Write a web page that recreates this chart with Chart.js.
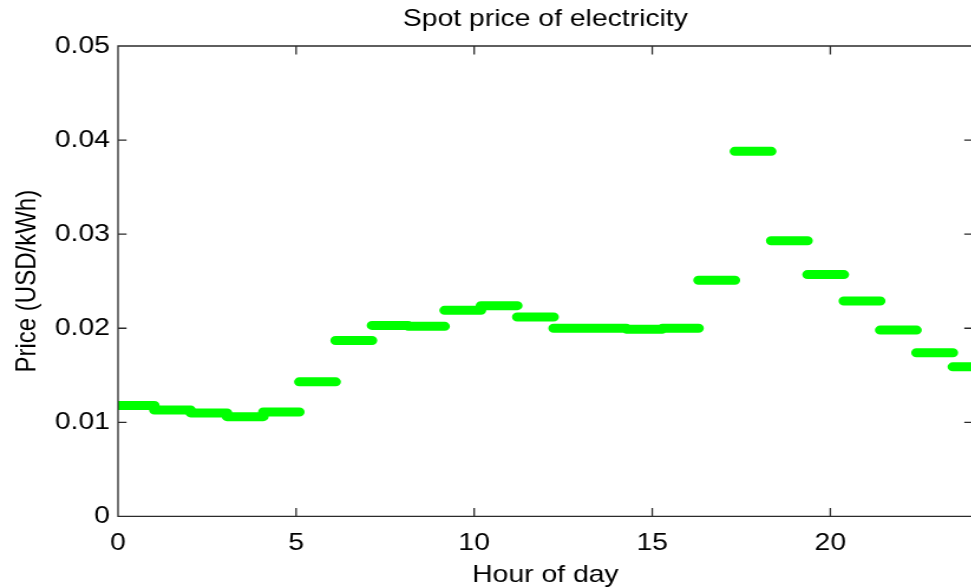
<!DOCTYPE html>
<html>
<head>
<meta charset="utf-8">
<title>Spot price of electricity</title>
<script src="https://cdn.jsdelivr.net/npm/chart.js@4/dist/chart.umd.min.js"></script>
<style>
  html, body { margin: 0; padding: 0; background: #fff; overflow: hidden; }
  canvas { display: block; }
</style>
</head>
<body>
<!-- drawn at 826 px wide and shown 1.18x wider, giving the wide lettering of the original figure -->
<canvas id="price" width="826" height="587" style="width:974.7px;height:587px"></canvas>
<script>
// Boundaries of the hourly price slots (hours)
const slotEdges = [0, 1.02, 2.04, 3.06, 4.08, 5.09, 6.11, 7.13, 8.15, 9.17, 10.19, 11.21,
                   12.23, 13.25, 14.27, 15.29, 16.30, 17.32, 18.34, 19.36, 20.38, 21.40,
                   22.42, 23.44, 24.46];
// Spot price in each slot (USD/kWh)
const spotPrice = [0.0118, 0.0113, 0.0110, 0.0106, 0.0111, 0.0143, 0.0187, 0.0203,
                   0.0202, 0.0219, 0.0224, 0.0212, 0.0200, 0.0200, 0.0199, 0.0200,
                   0.0251, 0.0388, 0.0293, 0.0257, 0.0229, 0.0198, 0.0174, 0.0159];
const xTicks = [0, 5, 10, 15, 20];
const yTicks = [0, 0.01, 0.02, 0.03, 0.04, 0.05];

const STRETCH = 1.18;   // horizontal display stretch of the canvas
const TICK = 8.5;       // inward tick length in screen pixels
const FONT = "'Liberation Sans', Arial, Helvetica, sans-serif";

// one flat segment per slot, separated by gaps
const points = [];
spotPrice.forEach((p, i) => {
  points.push({ x: slotEdges[i], y: p });
  points.push({ x: slotEdges[i + 1], y: p });
  points.push({ x: slotEdges[i + 1], y: null });
});

// closed axes box with inward ticks on all four sides
const axesBox = {
  id: 'axesBox',
  afterDatasetsDraw(chart) {
    const { ctx, chartArea: a, scales: { x, y } } = chart;
    ctx.save();
    ctx.strokeStyle = '#2b2b2b';
    ctx.lineWidth = 1.3;
    ctx.beginPath();
    ctx.rect(a.left, a.top, a.right - a.left, a.bottom - a.top);
    xTicks.forEach(v => {
      const px = x.getPixelForValue(v);
      ctx.moveTo(px, a.bottom); ctx.lineTo(px, a.bottom - TICK);
      ctx.moveTo(px, a.top);    ctx.lineTo(px, a.top + TICK);
    });
    yTicks.forEach(v => {
      const py = y.getPixelForValue(v);
      ctx.moveTo(a.left, py);  ctx.lineTo(a.left + TICK / STRETCH, py);
      ctx.moveTo(a.right, py); ctx.lineTo(a.right - TICK / STRETCH, py);
    });
    ctx.stroke();
    ctx.restore();
  }
};

Chart.defaults.font.family = FONT;
Chart.defaults.font.size = 24;
Chart.defaults.color = '#000';

const noGrid = { display: false, drawTicks: false, tickLength: 0 };

new Chart(document.getElementById('price'), {
  type: 'scatter',
  data: {
    datasets: [{
      label: 'Spot price',
      data: points,
      showLine: true,
      spanGaps: false,
      borderColor: '#00ff00',
      backgroundColor: '#00ff00',
      borderWidth: 9,
      borderCapStyle: 'round',
      borderJoinStyle: 'round',
      pointRadius: 0,
      pointHoverRadius: 0,
      tension: 0
    }]
  },
  options: {
    responsive: false,
    devicePixelRatio: 1,
    animation: false,
    layout: { padding: { left: 0, top: 0, bottom: 0, right: 1.9 } },
    plugins: {
      legend: { display: false },
      tooltip: { enabled: false },
      title: {
        display: true,
        text: 'Spot price of electricity',
        fullSize: false,
        color: '#000',
        font: { size: 24, weight: 'normal', lineHeight: 1.2 },
        padding: { top: 5.3, bottom: 11.9 }
      }
    },
    scales: {
      x: {
        type: 'linear',
        min: 0,
        max: 24,
        grid: noGrid,
        border: { display: false },
        afterBuildTicks: s => { s.ticks = xTicks.map(v => ({ value: v })); },
        afterFit: s => { s.height = 70.6; },
        ticks: { padding: 13, maxRotation: 0, autoSkip: false, callback: v => String(v) },
        title: { display: true, text: 'Hour of day', padding: { top: 0, bottom: -2.5 } }
      },
      y: {
        type: 'linear',
        min: 0,
        max: 0.05,
        grid: noGrid,
        border: { display: false },
        afterBuildTicks: s => { s.ticks = yTicks.map(v => ({ value: v })); },
        afterFit: s => { s.width = 100; },
        ticks: { padding: 6.8, autoSkip: false, callback: v => String(v) },
        title: { display: true, text: 'Price (USD/kWh)', padding: { top: 9, bottom: 0 } }
      }
    }
  },
  plugins: [axesBox]
});
</script>
</body>
</html>
